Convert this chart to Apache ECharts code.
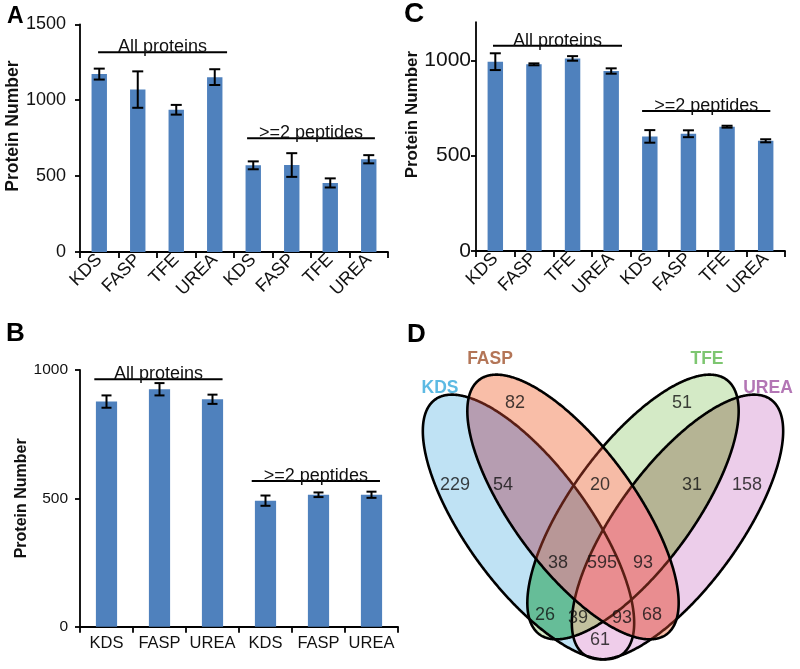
<!DOCTYPE html>
<html>
<head>
<meta charset="utf-8" />
<title>Protein Number</title>
<style>
  html, body { margin: 0; padding: 0; background: #fff; }
  #chart { width: 800px; height: 669px; }
</style>
</head>
<body>
<div id="chart"></div>
<script src="https://cdn.jsdelivr.net/npm/echarts@6/dist/echarts.min.js"></script>
<script>
// ---- data ----
// panel A
const catsA = ['KDS', 'FASP', 'TFE', 'UREA', 'KDS', 'FASP', 'TFE', 'UREA'];
const meanA = [1172, 1070, 937, 1152, 571, 573, 455, 611];
const sdA = [36, 120, 32, 52, 26, 78, 30, 27];
// panel B
const catsB = ['KDS', 'FASP', 'UREA', 'KDS', 'FASP', 'UREA'];
const meanB = [877, 925, 886, 491, 514, 514];
const sdB = [24, 24, 18, 20, 9, 12];
// panel C
const catsC = ['KDS', 'FASP', 'TFE', 'UREA', 'KDS', 'FASP', 'TFE', 'UREA'];
const meanC = [993, 979, 1010, 944, 601, 615, 652, 578];
const sdC = [44, 5, 12, 14, 33, 18, 5, 8];
const groupLabels = ['All proteins', '>=2 peptides'];
const yTicksA = [0, 500, 1000, 1500];
const yTicksB = [0, 500, 1000];
const yTicksC = [0, 500, 1000];
// panel D (bits: KDS=1, FASP=2, TFE=4, UREA=8)
const vennSets = ['KDS', 'FASP', 'TFE', 'UREA'];
const vennMasks = [1, 2, 4, 8, 3, 6, 12, 7, 15, 14, 5, 13, 11, 10, 9];
const vennCounts = [229, 82, 51, 158, 54, 20, 31, 38, 595, 93, 26, 39, 93, 68, 61];

// ---- layout / style ----
const FONT = '"Liberation Sans", Arial, Helvetica, sans-serif';
const BAR = '#4f81bd';
// bracket heights (value units) and spans (in category bands, from first category centre)
const brA = { y: [1316, 750], span: [[-0.03, 3.32], [3.84, 7.16]] };
const brB = { y: [964, 568], span: [[-0.23, 2.19], [2.74, 5.16]] };
const brC = { y: [1077, 734], span: [[-0.06, 3.28], [3.80, 7.12]] };
// venn ellipse layout in panel units (y down)
const vennCX = [128.5, 173, 233, 277.5];
const vennCY = [197, 177, 177, 197];
const vennAng = [53.7, 53.7, 126.3, 126.3];
const vennA = 158, vennB = 61;
const countPos = [[55, 155], [115, 73], [282, 73], [347, 155], [103, 155], [200, 155], [292, 155],
  [158, 233], [202, 233], [243, 233], [145, 285], [178, 288], [222, 288], [252, 285], [200, 310]];
const setPos = [[40, 58], [90, 29], [307, 29], [368, 58]];
const setColors = ['#35a9dc', '#a0522d', '#5cb84c', '#a054a2'];
// final look of each region
const regionFill = {
  1: '#bfe2f4', 2: '#f9bea8', 4: '#d4eac6', 8: '#eccdea',
  3: '#b69db1', 5: '#66bd98', 6: '#f6bba6', 9: '#efcdea', 10: '#e98d90', 12: '#b5b494',
  7: '#b99797', 11: '#e98d90', 13: '#c2c19e', 14: '#e98d90', 15: '#e98d90'
};
// FASP is laid over the other outlines as a translucent sheet
const faspTint = [255, 86, 57], faspAlpha = 0.35;

function baseFill(mask) {
  const hex = regionFill[mask];
  const rgb = [1, 3, 5].map(i => parseInt(hex.substr(i, 2), 16));
  if (!(mask & 2)) return hex;
  const out = rgb.map((c, i) => Math.max(0, Math.min(255, Math.round((c - faspAlpha * faspTint[i]) / (1 - faspAlpha)))));
  return 'rgb(' + out.join(',') + ')';
}

// ---- venn geometry ----
const NS = 720;
function ellipsePts(k) {
  const t = vennAng[k] * Math.PI / 180, c = Math.cos(t), s = Math.sin(t);
  const pts = [];
  for (let i = 0; i < NS; i++) {
    const u = 2 * Math.PI * i / NS;
    const ex = vennA * Math.cos(u), ey = vennB * Math.sin(u);
    pts.push([vennCX[k] + ex * c - ey * s, vennCY[k] + ex * s + ey * c]);
  }
  return pts;
}
function inside(k, p) {
  const t = vennAng[k] * Math.PI / 180, c = Math.cos(t), s = Math.sin(t);
  const dx = p[0] - vennCX[k], dy = p[1] - vennCY[k];
  const u = dx * c + dy * s, v = -dx * s + dy * c;
  return (u * u) / (vennA * vennA) + (v * v) / (vennB * vennB) <= 1.0001;
}
const samples = [0, 1, 2, 3].map(ellipsePts);
function regionPoly(mask) {
  const sets = [0, 1, 2, 3].filter(k => mask & (1 << k));
  let pts = [];
  sets.forEach(k => {
    samples[k].forEach(p => {
      if (sets.every(j => j === k || inside(j, p))) pts.push(p);
    });
  });
  const cx = pts.reduce((a, p) => a + p[0], 0) / pts.length;
  const cy = pts.reduce((a, p) => a + p[1], 0) / pts.length;
  pts.sort((a, b) => Math.atan2(a[1] - cy, a[0] - cx) - Math.atan2(b[1] - cy, b[0] - cx));
  return pts;
}
const bitCount = m => (m & 1) + ((m >> 1) & 1) + ((m >> 2) & 1) + ((m >> 3) & 1);
const regionOrder = vennMasks.slice().sort((a, b) => bitCount(a) - bitCount(b));
const regionPolys = {};
regionOrder.forEach(m => { regionPolys[m] = regionPoly(m); });

// ---- series builders ----
function barSeries(g, means) {
  return {
    type: 'bar', xAxisIndex: g, yAxisIndex: g, data: means, barWidth: '40%',
    itemStyle: { color: BAR }, silent: true
  };
}
function errSeries(g, means, sds, cap) {
  return {
    type: 'custom', xAxisIndex: g, yAxisIndex: g, z: 5, silent: true,
    data: means.map((m, i) => [i, m - sds[i], m + sds[i]]),
    renderItem: function (params, api) {
      const lo = api.coord([api.value(0), api.value(1)]);
      const hi = api.coord([api.value(0), api.value(2)]);
      const st = { stroke: '#000', lineWidth: 2 };
      return {
        type: 'group', children: [
          { type: 'line', shape: { x1: lo[0], y1: lo[1], x2: hi[0], y2: hi[1] }, style: st },
          { type: 'line', shape: { x1: lo[0] - cap, y1: lo[1], x2: lo[0] + cap, y2: lo[1] }, style: st },
          { type: 'line', shape: { x1: hi[0] - cap, y1: hi[1], x2: hi[0] + cap, y2: hi[1] }, style: st }
        ]
      };
    }
  };
}
function bracketSeries(g, br) {
  return {
    type: 'custom', xAxisIndex: g, yAxisIndex: g, z: 6, silent: true,
    data: br.y.map(v => [0, v]),
    renderItem: function (params, api) {
      const i = params.dataIndex;
      const base = api.coord([0, api.value(1)]);
      const band = api.size([1, 0])[0];
      const x1 = base[0] + br.span[i][0] * band;
      const x2 = base[0] + br.span[i][1] * band;
      const y = base[1];
      return {
        type: 'group', children: [
          { type: 'line', shape: { x1: x1, y1: y, x2: x2, y2: y }, style: { stroke: '#000', lineWidth: 2 } },
          {
            type: 'text', style: {
              text: groupLabels[i], x: (x1 + x2) / 2, y: y + 4, align: 'center', verticalAlign: 'bottom',
              fontSize: 18, fontFamily: FONT, fill: '#111'
            }
          }
        ]
      };
    }
  };
}
function catAxis(g, cats, rotate, fontSize, margin) {
  return {
    type: 'category', gridIndex: g, data: cats,
    axisLine: { show: true, lineStyle: { color: '#000', width: 1.8 } },
    axisTick: { show: true, length: 6, lineStyle: { color: '#000', width: 1.8 } },
    axisLabel: { rotate: rotate, fontSize: fontSize, color: '#111', fontFamily: FONT, margin: margin, interval: 0 },
    splitLine: { show: false }
  };
}
function valAxis(g, max, ticks, fontSize, margin, nameSize, nameGap, shift) {
  return {
    type: 'value', gridIndex: g, min: 0, max: max,
    name: 'Protein Number', nameLocation: 'middle', nameGap: nameGap,
    nameTextStyle: { fontSize: nameSize, fontWeight: 'bold', color: '#111', fontFamily: FONT, padding: [0, 0, 0, shift] },
    axisLine: { show: true, lineStyle: { color: '#000', width: 1.8 } },
    axisTick: { show: true, length: 5, customValues: ticks, lineStyle: { color: '#000', width: 1.8 } },
    axisLabel: {
      fontSize: fontSize, color: '#111', fontFamily: FONT, margin: margin, customValues: ticks,
      formatter: v => String(v)
    },
    splitLine: { show: false }
  };
}
function outlineSeries(sets, z) {
  return {
    type: 'custom', xAxisIndex: 3, yAxisIndex: 3, z: z, silent: true,
    data: sets.map(k => [k, 0]),
    renderItem: function (params, api) {
      const pts = samples[sets[params.dataIndex]].map(p => api.coord(p));
      return { type: 'polygon', shape: { points: pts }, style: { fill: null, stroke: '#000', lineWidth: 2.6 } };
    }
  };
}

const option = {
  animation: false,
  textStyle: { fontFamily: FONT },
  title: [
    { text: 'A', left: 7, top: 5, padding: 0, textStyle: { fontSize: 23, fontWeight: 'bold', color: '#000', fontFamily: FONT } },
    { text: 'B', left: 6, top: 321, padding: 0, textStyle: { fontSize: 26, fontWeight: 'bold', color: '#000', fontFamily: FONT } },
    { text: 'C', left: 404, top: 0, padding: 0, textStyle: { fontSize: 28, fontWeight: 'bold', color: '#000', fontFamily: FONT } },
    { text: 'D', left: 407, top: 322, padding: 0, textStyle: { fontSize: 26, fontWeight: 'bold', color: '#000', fontFamily: FONT } }
  ],
  grid: [
    { left: 80, top: 24.3, width: 308, height: 227.7, containLabel: false, outerBoundsMode: 'none' },
    { left: 80, top: 370, width: 318, height: 256.7, containLabel: false, outerBoundsMode: 'none' },
    { left: 476, top: 22.2, width: 309, height: 228.8, containLabel: false, outerBoundsMode: 'none' },
    { left: 400, top: 330, width: 400, height: 339, containLabel: false, outerBoundsMode: 'none' }
  ],
  xAxis: [
    catAxis(0, catsA, 45, 18, 5),
    catAxis(1, catsB, 0, 16.5, 8),
    catAxis(2, catsC, 45, 18, 5),
    { type: 'value', gridIndex: 3, min: 0, max: 400, show: false }
  ],
  yAxis: [
    valAxis(0, 1500, yTicksA, 18, 14, 17.5, 49, 24),
    valAxis(1, 1000, yTicksB, 15.5, 12, 16, 47, 0),
    valAxis(2, 1200, yTicksC, 21, 5, 17, 47.5, 44),
    { type: 'value', gridIndex: 3, min: 0, max: 339, inverse: true, show: false }
  ],
  series: [
    barSeries(0, meanA), errSeries(0, meanA, sdA, 5.5), bracketSeries(0, brA),
    barSeries(1, meanB), errSeries(1, meanB, sdB, 5), bracketSeries(1, brB),
    barSeries(2, meanC), errSeries(2, meanC, sdC, 5.5), bracketSeries(2, brC),
    {
      type: 'custom', xAxisIndex: 3, yAxisIndex: 3, z: 2, silent: true,
      data: regionOrder.map(m => [m, 0]),
      renderItem: function (params, api) {
        const m = regionOrder[params.dataIndex];
        const pts = regionPolys[m].map(p => api.coord(p));
        return { type: 'polygon', shape: { points: pts }, style: { fill: baseFill(m), stroke: null } };
      }
    },
    outlineSeries([0, 3, 2], 3),
    {
      type: 'custom', xAxisIndex: 3, yAxisIndex: 3, z: 4, silent: true,
      data: [[1, 0]],
      renderItem: function (params, api) {
        const pts = samples[1].map(p => api.coord(p));
        return {
          type: 'polygon', shape: { points: pts },
          style: { fill: 'rgba(' + faspTint.join(',') + ',' + faspAlpha + ')', stroke: null }
        };
      }
    },
    outlineSeries([1], 5),
    {
      type: 'scatter', xAxisIndex: 3, yAxisIndex: 3, z: 6, silent: true, symbolSize: 0,
      itemStyle: { color: 'rgba(0,0,0,0)' },
      data: vennCounts.map((c, i) => ({ value: [countPos[i][0], countPos[i][1], c] })),
      label: { show: true, position: 'inside', formatter: p => String(p.value[2]), fontSize: 18, color: '#111', fontFamily: FONT }
    },
    {
      type: 'scatter', xAxisIndex: 3, yAxisIndex: 3, z: 6, silent: true, symbolSize: 0,
      itemStyle: { color: 'rgba(0,0,0,0)' },
      data: vennSets.map((s, i) => ({ value: [setPos[i][0], setPos[i][1]], name: s, label: { color: setColors[i] } })),
      label: { show: true, position: 'inside', formatter: p => p.name, fontSize: 17.5, fontWeight: 'bold', fontFamily: FONT }
    }
  ]
};

const chart = echarts.init(document.getElementById('chart'));
chart.setOption(option);
window.onresize = function () { chart.resize(); };
</script>
</body>
</html>
